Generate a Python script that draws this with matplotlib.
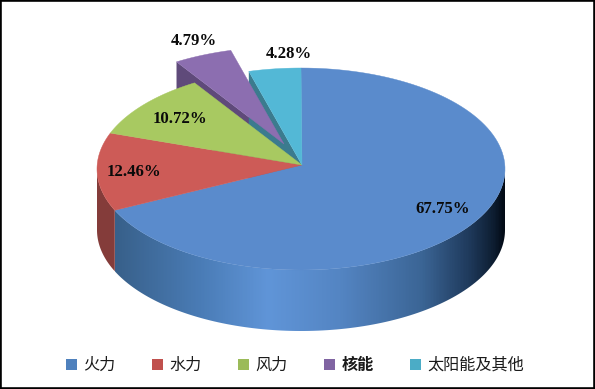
# -*- coding: utf-8 -*-
"""3D style pie chart of generation mix, drawn in pixel coordinates."""
import numpy as np
import matplotlib
matplotlib.use('Agg')
import matplotlib.pyplot as plt
from matplotlib.colors import LinearSegmentedColormap
from matplotlib.patches import Patch, Polygon

plt.rcParams['font.family'] = ['Noto Sans CJK SC', 'DejaVu Sans']

# data
categories = ['火力', '水力', '风力', '核能', '太阳能及其他']
shares = [67.75, 12.46, 10.72, 4.79, 4.28]
share_labels = ['67.75%', '12.46%', '10.72%', '4.79%', '4.28%']

# styles
top_colors = ['#5a8bcc', '#cd5b57', '#a8c961', '#8c6eb0', '#53b8d6']
legend_colors = ['#4f81bd', '#c0504d', '#9bbb59', '#8064a2', '#4bacc6']
label_pos = [(442.5, 209), (133.5, 172), (179.5, 119), (194, 41), (288.5, 53.5)]

CX, CY = 301, 169      # ellipse centre
RX, RY = 204, 101
APEX = (302, 165)      # wedges meet here, slightly above the ellipse centre
DEPTH = 61
EXPLODE = (-18, -21)   # offset of the nuclear slice
WARP = 2.2             # perspective correction of the slice angles, degrees


def rim(t_deg):
    t = np.radians(t_deg)
    return np.column_stack([CX + RX * np.sin(t), CY - RY * np.cos(t)])


fig = plt.figure(figsize=(5.95, 3.89), dpi=100, facecolor='white')
ax = fig.add_axes([0, 0, 1, 1])
ax.set_xlim(0, 595)
ax.set_ylim(389, 0)
ax.set_xticks([])
ax.set_yticks([])
for sp in ax.spines.values():
    sp.set_linewidth(2.6)
    sp.set_color('black')

edges = np.concatenate([[0], np.cumsum(shares) / np.sum(shares) * 360])
edges = edges - WARP * np.sin(np.radians(edges))
apex = np.array(APEX, dtype=float)
shift = np.array(EXPLODE, dtype=float)
down = np.array([0, DEPTH], dtype=float)

# cut faces seen through the gap left by the nuclear slice
p_out = rim(edges[3])[0] + shift
p_apex = apex + shift
ax.add_patch(Polygon([p_out, p_apex, p_apex + down, p_out + down],
                     fc='#5f4a7a', ec='none', zorder=1))
c_out = rim(edges[4])[0]
ax.add_patch(Polygon([c_out, apex, apex + down, c_out + down],
                     fc='#3b7b8e', ec='none', zorder=1))

# outer side of the red slice
t_side = np.linspace(edges[1], 270, 40)
upper = rim(t_side)
side = np.vstack([upper, (upper + down)[::-1]])
ax.add_patch(Polygon(side, fc='#843c3a', ec='none', zorder=1))

# outer side of the blue slice, horizontal gradient clipped to the rim band
t_side = np.linspace(90, edges[1], 120)
upper = rim(t_side)
side = np.vstack([upper, (upper + down)[::-1]])
clip = Polygon(side, fc='none', ec='none', zorder=1)
ax.add_patch(clip)
x0, x1 = 115, 506
stops = [(115, '#38608a'), (200, '#4a7cb6'), (268, '#6095d8'), (340, '#5485c3'),
         (423, '#3b6595'), (470, '#1f3a5c'), (493, '#0f2035'), (506, '#020a15')]
side_cmap = LinearSegmentedColormap.from_list(
    'side', [((x - x0) / (x1 - x0), c) for x, c in stops])
im = ax.imshow(np.linspace(0, 1, 400)[None, :], cmap=side_cmap, aspect='auto',
               extent=[x0, x1, 340, 160], zorder=1)
im.set_clip_path(clip)
ax.set_xlim(0, 595)
ax.set_ylim(389, 0)

# top surfaces
for i in range(len(shares)):
    t = np.linspace(edges[i], edges[i + 1], 120)
    pts = np.vstack([apex, rim(t)])
    if i == 3:
        pts = pts + shift
    ax.add_patch(Polygon(pts, fc=top_colors[i], ec=top_colors[i], lw=0.3,
                         zorder=2 + (i == 3)))

# share labels
for txt, (lx, ly) in zip(share_labels, label_pos):
    ax.text(lx, ly, txt, ha='center', va='center', fontsize=12.1,
            fontweight='bold', family='Liberation Serif', color='#0a0a0a',
            zorder=5)

# legend
handles = [Patch(fc=c, ec='none') for c in legend_colors]
leg = ax.legend(handles, categories, ncol=5, frameon=False, fontsize=11.6,
                loc='center left', bbox_to_anchor=(66, 365.5),
                bbox_transform=ax.transData, borderpad=0, borderaxespad=0,
                handlelength=0.69, handleheight=0.69, handletextpad=0.4,
                columnspacing=2.25)
leg.get_texts()[3].set_fontweight('bold')
for t in leg.get_texts():
    t.set_color('#1a1a1a')

fig.savefig('out.png', dpi=100)
